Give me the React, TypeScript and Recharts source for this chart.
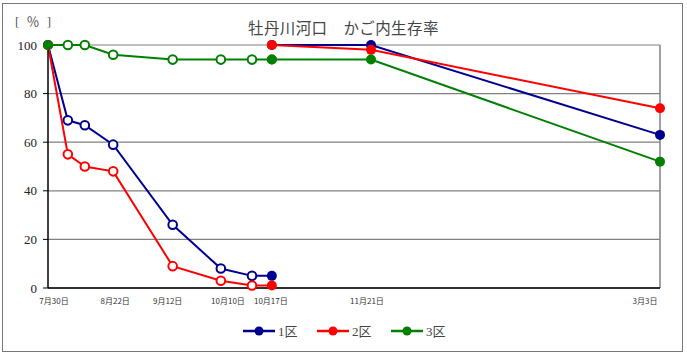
import { LineChart, Line, XAxis, YAxis, CartesianGrid, ReferenceLine, Legend } from "recharts";

// days counted from 7/30
const firstDays = [0, 7, 13, 23, 44, 61, 72, 79];
const secondDays = [79, 114, 216];

const zone1First = [100, 69, 67, 59, 26, 8, 5, 5];
const zone2First = [100, 55, 50, 48, 9, 3, 1, 1];
const zone3First = [100, 100, 100, 96, 94, 94, 94, 94];

const zone1Second = [100, 100, 63];
const zone2Second = [100, 98, 74];
const zone3Second = [94, 94, 52];

const tickDays = [0, 23, 44, 72, 79, 114, 216];
const tickLabels = ["7月30日", "8月22日", "9月12日", "10月10日", "10月17日", "11月21日", "3月3日"];
const yTicks = [0, 20, 40, 60, 80, 100];

const zoneNames = ["1区", "2区", "3区"];
const zoneColors = ["#000090", "#ff0000", "#008000"];

// label nudges so the date labels don't collide
const tickNudge: Record<number, number> = { 0: 6, 23: 2, 44: -5, 72: -24, 79: -1, 114: -4, 216: -15 };

const serif = '"Liberation Serif", "Noto Sans CJK JP", serif';
const jp = '"Noto Sans CJK JP", sans-serif';

function toPoints(days: number[], values: number[]) {
  return days.map((day, i) => ({ day, value: values[i] }));
}

const zones = [
  { first: toPoints(firstDays, zone1First), second: toPoints(secondDays, zone1Second) },
  { first: toPoints(firstDays, zone2First), second: toPoints(secondDays, zone2Second) },
  { first: toPoints(firstDays, zone3First), second: toPoints(secondDays, zone3Second) },
].map((z, i) => ({ ...z, name: zoneNames[i], color: zoneColors[i] }));

function DateTick(props: any) {
  const { x, y, payload } = props;
  const idx = tickDays.indexOf(payload.value);
  return (
    <text
      x={x + (tickNudge[payload.value] || 0)}
      y={y}
      dy={8}
      textAnchor="middle"
      fontSize={8}
      fontFamily={jp}
      fill="#333"
    >
      {tickLabels[idx]}
    </text>
  );
}

function makeDot(color: string, count: number, allFilled: boolean) {
  return (props: any) => {
    const { cx, cy, index } = props;
    const filled = allFilled || index === 0 || index === count - 1;
    return (
      <circle
        key={`dot-${color}-${index}-${allFilled}`}
        cx={cx}
        cy={cy}
        r={filled ? 5 : 4.3}
        fill={filled ? color : "#fff"}
        stroke={color}
        strokeWidth={filled ? 0 : 2}
      />
    );
  };
}

function LegendBox() {
  return (
    <div style={{ display: "flex" }}>
      {zones.map((z) => (
        <div key={z.name} style={{ width: 74, display: "flex", alignItems: "center" }}>
          <svg width={32} height={14}>
            <line x1={0} y1={7} x2={32} y2={7} stroke={z.color} strokeWidth={2.5} />
            <circle cx={16} cy={7} r={4.5} fill={z.color} />
          </svg>
          <span style={{ marginLeft: 3, fontSize: 13, fontFamily: serif, color: "#444" }}>{z.name}</span>
        </div>
      ))}
    </div>
  );
}

export default function App() {
  return (
    <div style={{ position: "absolute", left: 0, top: 0, width: 687, height: 356, background: "#fff" }}>
      <div
        style={{
          position: "absolute",
          left: 2,
          top: 3,
          width: 679,
          height: 347,
          border: "1px solid #777",
        }}
      />
      <div
        style={{
          position: "absolute",
          left: 15,
          top: 12,
          fontSize: 13,
          letterSpacing: 2,
          fontFamily: serif,
          color: "#555",
          lineHeight: "20px",
        }}
      >
        [ ％ ]
      </div>
      <div
        style={{
          position: "absolute",
          left: 248,
          top: 16,
          fontSize: 15.5,
          letterSpacing: 0.4,
          fontFamily: jp,
          color: "#444",
          lineHeight: "22px",
        }}
      >
        牡丹川河口　かご内生存率
      </div>
      <div style={{ position: "absolute", left: 0, top: 0 }}>
        <LineChart width={687} height={356} margin={{ top: 45, right: 27, bottom: 48, left: 0 }}>
          <CartesianGrid vertical={false} stroke="#808080" strokeWidth={1.2} />
          <ReferenceLine x={216} stroke="#808080" strokeWidth={1.5} />
          <XAxis
            dataKey="day"
            type="number"
            domain={[0, 216]}
            ticks={tickDays}
            interval={0}
            tick={<DateTick />}
            tickLine={false}
            axisLine={{ stroke: "#000", strokeWidth: 1.5 }}
            height={20}
            allowDuplicatedCategory={false}
          />
          <YAxis
            type="number"
            domain={[0, 100]}
            ticks={yTicks}
            width={48}
            tickSize={5}
            tickMargin={6}
            axisLine={{ stroke: "#000", strokeWidth: 1.5 }}
            tickLine={{ stroke: "#000" }}
            tick={{ fontSize: 13, fontFamily: serif, fill: "#222" }}
          />
          {zones.map((z) => [
            <Line
              key={`${z.name}-a`}
              data={z.first}
              dataKey="value"
              stroke={z.color}
              strokeWidth={2}
              dot={makeDot(z.color, z.first.length, false)}
              activeDot={false}
              isAnimationActive={false}
              legendType="none"
            />,
            <Line
              key={`${z.name}-b`}
              data={z.second}
              dataKey="value"
              stroke={z.color}
              strokeWidth={2}
              dot={makeDot(z.color, z.second.length, true)}
              activeDot={false}
              isAnimationActive={false}
              legendType="none"
            />,
          ])}
          <Legend
            layout="horizontal"
            verticalAlign="middle"
            align="center"
            content={<LegendBox />}
            wrapperStyle={{ left: 243, top: 321, width: 250 }}
          />
        </LineChart>
      </div>
    </div>
  );
}
